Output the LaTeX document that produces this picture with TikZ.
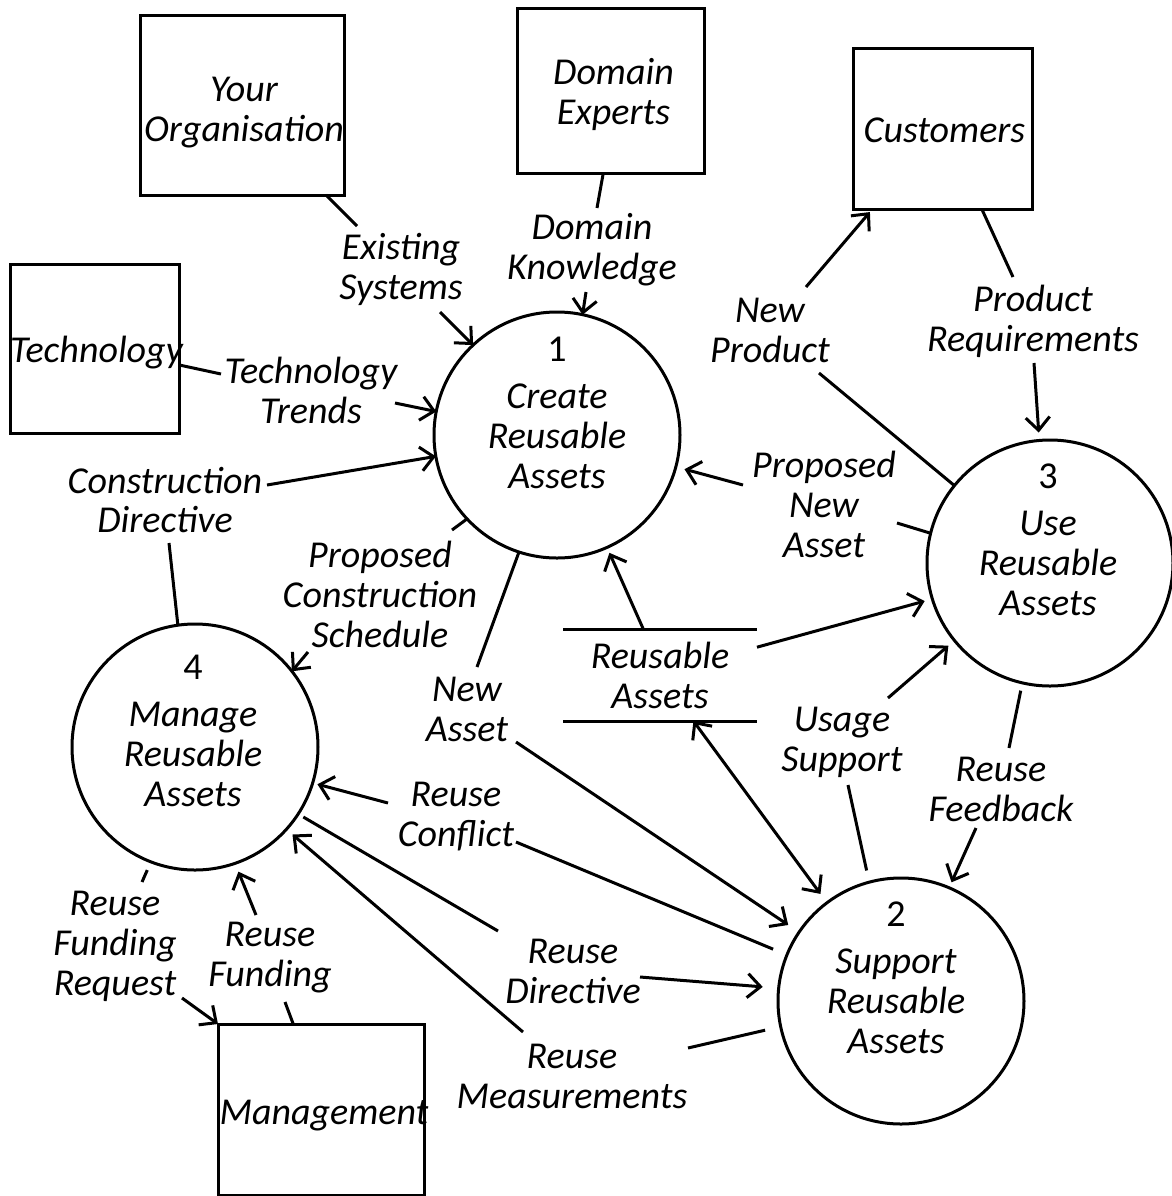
\documentclass[tikz,border=0pt]{standalone}
\usepackage{fontspec}
\setmainfont{Carlito}
\usetikzlibrary{arrows.meta,calc}
\newcommand\labfont{\fontsize{19}{20}\selectfont\itshape}

\begin{document}
\begin{tikzpicture}[x=0.5pt, y=-0.5pt,
  line width=1.5pt,
  every node/.style={inner sep=0pt, outer sep=0pt},
  txt/.style={font=\labfont, align=center},
  extbox/.style={draw, rectangle},
  proc/.style={draw, circle, minimum size=123pt},
  ptext/.style={txt},
  flowarrow/.style={-{Straight Barb[length=6.5pt,width=12pt]}},
  bothway/.style={{Straight Barb[length=6.5pt,width=12pt]}-{Straight Barb[length=6.5pt,width=12pt]}},
]
\fill[white] (0,0) rectangle (1172,1196);
\useasboundingbox (0,0) rectangle (1172,1196);

% External entities
\node[extbox, minimum width=102pt, minimum height=90pt] (org) at (242,105) {};
\node[extbox, minimum width=93.5pt, minimum height=82.5pt] (dom) at (610.5,90.5) {};
\node[extbox, minimum width=89.5pt, minimum height=80.5pt] (cus) at (942.5,128.5) {};
\node[extbox, minimum width=84.5pt, minimum height=84.5pt] (tech) at (94.5,348.5) {};
\node[extbox, minimum width=103pt, minimum height=85.5pt] (mgmt) at (321,1109.5) {};
\node[txt] (orgt) at ($(org)+(2,8)$) {Your\\Organisation};
\node[txt] (domt) at ($(dom)+(3,4)$) {Domain\\Experts};
\node[txt] (cust) at ($(cus)+(2,2)$) {Customers};
\node[txt] (techt) at ($(tech)+(2,4)$) {Technology};
\node[txt] (mgmtt) at ($(mgmt)+(3,6)$) {Management};

% Processes
\node[proc] (c1) at (557,435) {};
\node[proc] (c2) at (901,1001) {};
\node[proc] (c3) at (1050,563) {};
\node[proc] (c4) at (195,747) {};
\node[ptext] (c1t) at ($(c1)+(0,-22)$) {\textup{1}\\[3.5pt]Create\\Reusable\\Assets};
\node[ptext] (c2t) at ($(c2)+(-5,-23)$) {\textup{2}\\[3.5pt]Support\\Reusable\\Assets};
\node[ptext] (c3t) at ($(c3)+(-2,-23)$) {\textup{3}\\[3.5pt]Use\\Reusable\\Assets};
\node[ptext] (c4t) at ($(c4)+(-2,-16)$) {\textup{4}\\[3.5pt]Manage\\Reusable\\Assets};

% Data store
\node[txt, minimum width=97pt, minimum height=46pt] (store) at (660,675) {Reusable\\Assets};
\draw (store.north west) -- (store.north east);
\draw (store.south west) -- (store.south east);

% Flow labels
\node[txt] (esl) at (401,269) {Existing\\Systems};
\node[txt] (dkl) at (592,250) {Domain\\Knowledge};
\node[txt] (ttl) at (311,390) {Technology\\Trends};
\node[txt] (cdl) at (165,500) {Construction\\Directive};
\node[txt] (pcsl) at (380,594) {Proposed\\Construction\\Schedule};
\node[txt] (nal) at (467,709) {New\\Asset};
\node[txt] (pnal) at (824,504) {Proposed\\New\\Asset};
\node[txt] (npl) at (770,330) {New\\Product};
\node[txt] (prl) at (1033,321) {Product\\Requirements};
\node[txt] (usl) at (842,742) {Usage\\Support};
\node[txt] (rfl) at (1001,789) {Reuse\\Feedback};
\node[txt] (rcl) at (456,817) {Reuse\\Conflict};
\node[txt] (rdl) at (573,971) {Reuse\\Directive};
\node[txt] (rml) at (572,1076) {Reuse\\Measurements};
\node[txt] (rfrl) at (115,946) {Reuse\\Funding\\Request};
\node[txt] (rful) at (270,958) {Reuse\\Funding};

% Existing Systems
\coordinate (es1) at (357,226); \coordinate (es2) at (440,312);
\draw (org.313) -- (es1);
\draw[flowarrow] (es2) -- (c1.133);

% Domain Knowledge
\coordinate (dk1) at (597,208); \coordinate (dk2) at (586,292);
\draw (dom.265) -- (dk1);
\draw[flowarrow] (dk2) -- (c1.78);

% Technology Trends
\coordinate (tt1) at (221,374); \coordinate (tt2) at (395,403);
\draw (tech.349) -- (tt1);
\draw[flowarrow] (tt2) -- (c1.169);

% Construction Directive
\coordinate (cd1) at (169,543); \coordinate (cd2) at (267,485);
\draw (c4.98) -- (cd1);
\draw[flowarrow] (cd2) -- (c1.190);

% Proposed Construction Schedule
\coordinate (pcs1) at (452,530); \coordinate (pcs2) at (308,652);
\draw (c1.223) -- (pcs1);
\draw[flowarrow] (pcs2) -- (c4.38);

% New Asset
\coordinate (na1) at (477,667); \coordinate (na2) at (516,742);
\draw (c1.252) -- (na1);
\draw[flowarrow, shorten >=6.5pt] (na2) -- (c2.146);

% Proposed New Asset
\coordinate (pna1) at (897,523); \coordinate (pna2) at (743,485);
\draw (c3.166) -- (pna1);
\draw[flowarrow, shorten >=4.5pt] (pna2) -- (c1.345);

% New Product
\coordinate (np1) at (819,373); \coordinate (np2) at (806,287);
\draw (c3.141) -- (np1);
\draw[flowarrow, shorten >=2pt] (np2) -- (cus.229);

% Product Requirements
\coordinate (pr1) at (1013,277); \coordinate (pr2) at (1034,363);
\draw (cus.296) -- (pr1);
\draw[flowarrow, shorten >=4pt] (pr2) -- (c3.95);

% Reusable Assets store flows
\draw[flowarrow, shorten >=3pt] (store.110) -- (c1.294);
\draw[flowarrow, shorten >=4pt] (store.16) -- (c3.197);
\draw[bothway, shorten >=5.5pt] (store.306) -- (c2.127);

% Usage Support
\coordinate (us1) at (848,785); \coordinate (us2) at (888,698);
\draw[shorten <=6pt] (c2.105) -- (us1);
\draw[flowarrow, shorten >=4pt] (us2) -- (c3.219);

% Reuse Feedback
\coordinate (rf1) at (1009,748); \coordinate (rf2) at (976,828);
\draw[shorten <=4pt] (c3.257) -- (rf1);
\draw[flowarrow, shorten >=3pt] (rf2) -- (c2.67);

% Reuse Conflict
\coordinate (rc1) at (516,842); \coordinate (rc2) at (388,803);
\draw[shorten <=7.5pt] (c2.158) -- (rc1);
\draw[flowarrow, shorten >=2.5pt] (rc2) -- (c4.343);

% Reuse Directive
\coordinate (rd1) at (498,931); \coordinate (rd2) at (640,977);
\draw[shorten <=3pt] (c4.327) -- (rd1);
\draw[flowarrow, shorten >=8pt] (rd2) -- (c2.174);

% Reuse Measurements
\coordinate (rm1) at (688,1048); \coordinate (rm2) at (523,1032);
\draw[shorten <=8pt] (c2.192) -- (rm1);
\draw[flowarrow, shorten >=4pt] (rm2) -- (c4.318);

% Reuse Funding Request
\coordinate (rfr1) at (142,882); \coordinate (rfr2) at (182,998);
\draw[shorten <=4.5pt] (c4.249) -- (rfr1);
\draw[flowarrow] (rfr2) -- (mgmt.north west);

% Reuse Funding
\coordinate (rfu1) at (285,1002); \coordinate (rfu2) at (256,915);
\draw (mgmt.108) -- (rfu1);
\draw[flowarrow, shorten >=4.5pt] (rfu2) -- (c4.289);
\end{tikzpicture}
\end{document}
